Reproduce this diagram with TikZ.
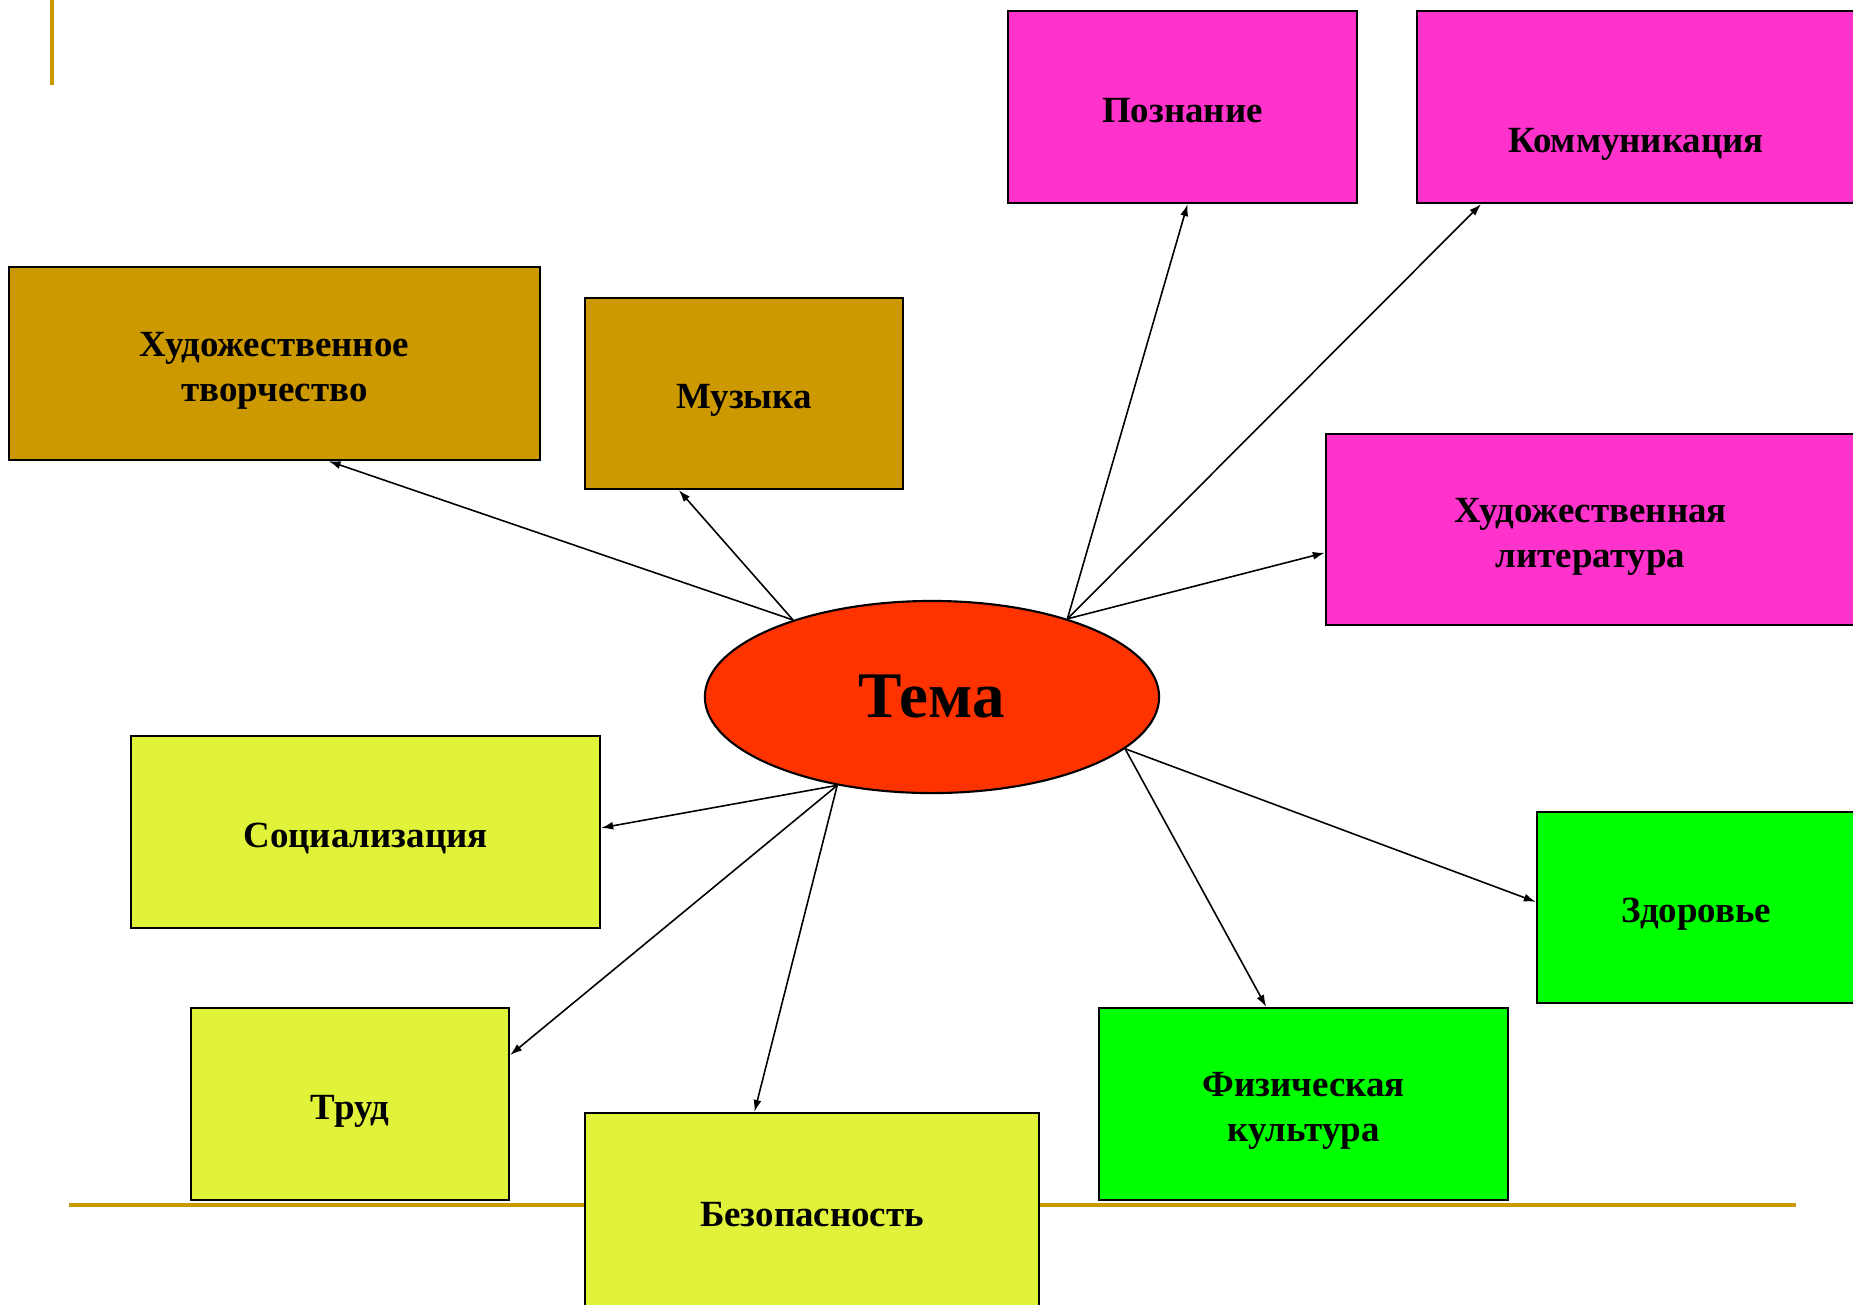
\documentclass[tikz,border=0pt]{standalone}
\usepackage{fontspec}
\setmainfont{Liberation Serif}
\usetikzlibrary{arrows.meta,shapes.geometric}

\definecolor{cgold}{RGB}{204,153,0}
\definecolor{cpink}{RGB}{255,51,204}
\definecolor{cred}{RGB}{255,51,0}
\definecolor{cyellow}{RGB}{224,242,58}
\definecolor{cgreen}{RGB}{0,255,0}

\newcommand{\onestrut}{\rule[-3pt]{0pt}{14.8pt}}
\newcommand{\twostrut}{\rule{0pt}{11pt}}

\begin{document}
\begin{tikzpicture}[x=0.01cm,y=-0.01cm,
    basebox/.style={draw,line width=0.6pt,inner sep=0pt,align=center,
      font=\bfseries\fontsize{10.5}{12.8}\selectfont},
    box/.style={basebox,execute at begin node=\onestrut},
    twobox/.style={basebox},
    arr/.style={line width=0.45pt,-{Latex[length=0.12cm,width=0.08cm]}}]
    \useasboundingbox (0,0) rectangle (1853,1305);

    % gold rules of the slide
    \draw [cgold,line width=1.1pt] (52,0) -- (52,85);
    \draw [cgold,line width=1.1pt] (69,1205) -- (1796,1205);

    \node [ellipse,draw,fill=cred,line width=0.6pt,inner sep=0pt,
    minimum width=4.54cm,minimum height=1.92cm,
    font=\bfseries\fontsize{18.5}{22}\selectfont] (tema) at (932,697) {Тема};

    \node [twobox,fill=cgold,minimum width=5.31cm,minimum height=1.93cm]
    (art) at (274.5,363.5) {\twostrut Художественное\\творчество};
    \node [box,fill=cgold,minimum width=3.18cm,minimum height=1.91cm]
    (music) at (744,393.5) {Музыка};

    \node [box,fill=cpink,minimum width=3.49cm,minimum height=1.92cm]
    (pozn) at (1182.5,107) {Познание};
    \node [box,fill=cpink,minimum width=4.39cm,minimum height=1.92cm]
    (komm) at (1636.5,107) {};
    \node [font=\bfseries\fontsize{10.5}{12.8}\selectfont]
    (kommtext) at (1636,144) {Коммуникация};
    \node [twobox,fill=cpink,minimum width=5.29cm,minimum height=1.91cm]
    (lit) at (1590.5,529.5) {\twostrut Художественная\\литература};

    \node [box,fill=cyellow,minimum width=4.69cm,minimum height=1.92cm]
    (soc) at (365.5,832) {Социализация};
    \node [box,fill=cyellow,minimum width=3.18cm,minimum height=1.92cm]
    (trud) at (350,1104) {Труд};
    \node [box,fill=cyellow,minimum width=4.54cm,minimum height=1.97cm]
    (bez) at (812,1211.5) {Безопасность};

    \node [twobox,fill=cgreen,minimum width=4.09cm,minimum height=1.92cm]
    (fiz) at (1303.5,1104) {\twostrut Физическая\\культура};
    \node [box,fill=cgreen,minimum width=3.19cm,minimum height=1.91cm]
    (zdor) at (1696.5,907.5) {Здоровье};

    \draw [arr] (tema.151.5) -- (art.-61);
    \draw [arr] (tema.151.5) -- (music.236.6);
    \draw [arr] (tema.30.7) -- (pozn.273.6);
    \draw [arr] (tema.30.7) -- (komm.212.4);
    \draw [arr] (tema.30.7) -- (lit.185.5);
    \draw [arr] (tema.223.4) -- (soc.1.5);
    \draw [arr] (tema.223.4) -- (trud.17.8);
    \draw [arr] (tema.223.4) -- (bez.120.7);
    \draw [arr] (tema.-15.7) -- (fiz.111.6);
    \draw [arr] (tema.-15.7) -- (zdor.178);
  \end{tikzpicture}
\end{document}
